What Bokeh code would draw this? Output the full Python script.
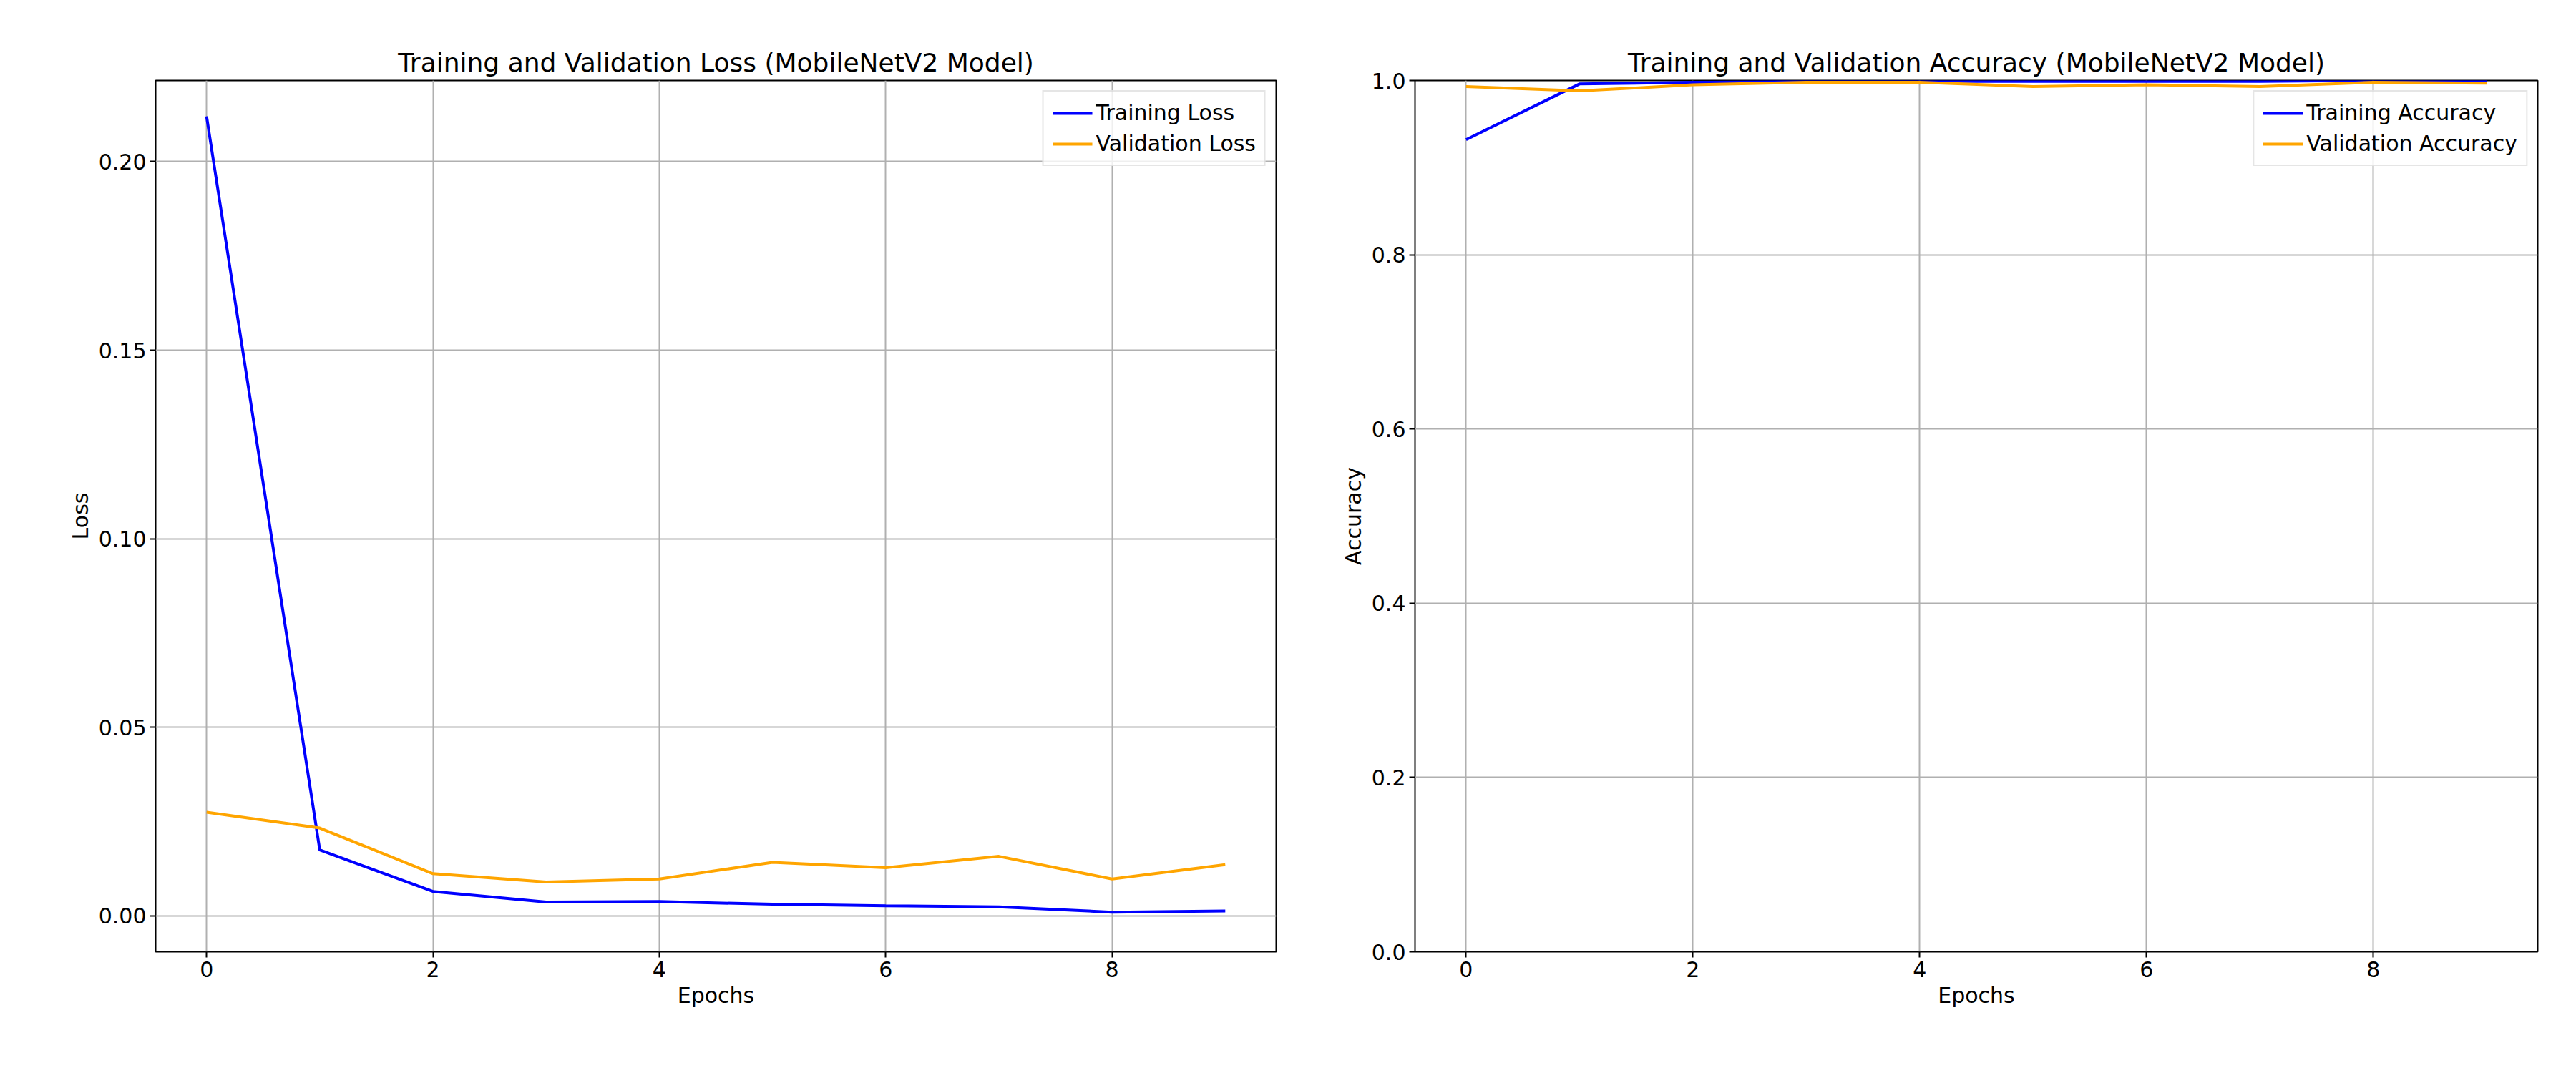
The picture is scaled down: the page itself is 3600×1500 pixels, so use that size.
from bokeh.plotting import figure
from bokeh.layouts import row
from bokeh.models import Range1d, FixedTicker, Legend, LegendItem, CustomJSTickFormatter
from bokeh.embed import file_html
from bokeh.resources import INLINE

epochs = list(range(10))
train_loss = [0.212, 0.0175, 0.0065, 0.0037, 0.0038, 0.0031, 0.0027, 0.0024, 0.0010, 0.0013]
val_loss = [0.0275, 0.0233, 0.0112, 0.0090, 0.0098, 0.0142, 0.0128, 0.0158, 0.0098, 0.0136]
train_acc = [0.932, 0.996, 0.998, 0.999, 0.999, 0.999, 0.999, 0.999, 1.0, 1.0]
val_acc = [0.993, 0.988, 0.995, 0.998, 0.998, 0.993, 0.995, 0.993, 0.998, 0.997]

FONT = "DejaVu Sans"


def make_fig(title, ylabel, y_range, yticks, fmt, width, left, right, series, labels):
    p = figure(width=width, height=1480, output_backend="svg", toolbar_location=None,
               x_range=Range1d(-0.45, 9.45), y_range=y_range, title=title,
               min_border_left=left, min_border_right=right,
               min_border_top=112, min_border_bottom=150)
    p.title.align = "center"
    p.title.text_font = FONT
    p.title.text_font_size = "36px"
    p.title.text_font_style = "normal"
    p.title.text_color = "black"
    p.outline_line_color = "black"
    p.outline_line_width = 2
    for ax in (p.xaxis, p.yaxis):
        ax.axis_label_text_font = FONT
        ax.axis_label_text_font_size = "30px"
        ax.axis_label_text_font_style = "normal"
        ax.axis_label_text_color = "black"
        ax.major_label_text_font = FONT
        ax.major_label_text_font_size = "30px"
        ax.major_label_text_color = "black"
        ax.minor_tick_line_color = None
        ax.major_tick_out = 8
        ax.major_tick_in = 0
        ax.major_tick_line_width = 2
        ax.axis_line_color = None
    p.xaxis.ticker = FixedTicker(ticks=[0, 2, 4, 6, 8])
    p.yaxis.ticker = FixedTicker(ticks=yticks)
    p.yaxis.formatter = CustomJSTickFormatter(code=f"return tick.toFixed({fmt});")
    p.xaxis.axis_label = "Epochs"
    p.yaxis.axis_label = ylabel
    p.grid.grid_line_color = "#b0b0b0"
    p.grid.grid_line_width = 2
    items = []
    for ys, color, lab in zip(series, ["blue", "orange"], labels):
        r = p.line(epochs, ys, line_color=color, line_width=4)
        items.append(LegendItem(label=lab, renderers=[r]))
    leg = Legend(items=items, location="top_right", label_text_font=FONT,
                 label_text_font_size="30px", label_text_color="black",
                 border_line_color="#cccccc", border_line_width=2,
                 background_fill_alpha=0.8, glyph_width=56,
                 margin=14, padding=12, spacing=8)
    p.add_layout(leg)
    return p


p1 = make_fig("Training and Validation Loss (MobileNetV2 Model)", "Loss",
              Range1d(-0.0095, 0.2215), [0.0, 0.05, 0.10, 0.15, 0.20], 2,
              1870, 217, 87, [train_loss, val_loss], ["Training Loss", "Validation Loss"])
p2 = make_fig("Training and Validation Accuracy (MobileNetV2 Model)", "Accuracy",
              Range1d(0.0, 1.0), [0.0, 0.2, 0.4, 0.6, 0.8, 1.0], 1,
              1710, 106, 34, [train_acc, val_acc], ["Training Accuracy", "Validation Accuracy"])

layout = row(p1, p2)
open("out.html", "w").write(file_html(layout, INLINE))
